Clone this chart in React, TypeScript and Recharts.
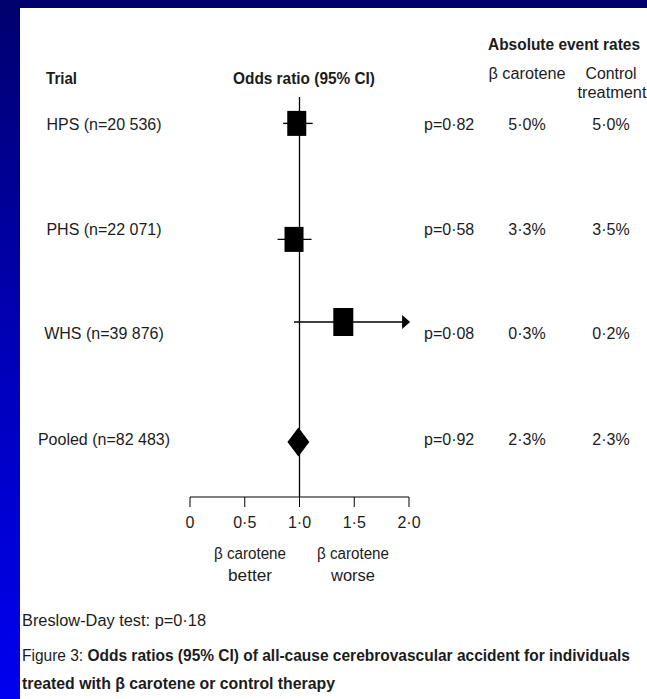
import { ComposedChart, Scatter, XAxis, YAxis, ReferenceLine } from "recharts";

const trials = ["HPS (n=20 536)", "PHS (n=22 071)", "WHS (n=39 876)", "Pooled (n=82 483)"];
const pValues = ["p=0·82", "p=0·58", "p=0·08", "p=0·92"];
const caroteneRates = ["5·0%", "3·3%", "0·3%", "2·3%"];
const controlRates = ["5·0%", "3·5%", "0·2%", "2·3%"];

// odds ratio and 95% CI
const oddsRatio = [0.975, 0.95, 1.4, 1.0];
const ciLow = [0.85, 0.8, 0.95, 0.89];
const ciHigh = [1.12, 1.11, 2.01, 1.09];

// row positions on the vertical axis (0 = x axis, 100 = top of the plot)
const markerRow = [93.4, 64.4, 43.75, 13.75];
const textRow = [93.25, 67, 41, 14.5];

const xTicks = [0, 0.5, 1, 1.5, 2];

const FONT = "'Liberation Sans', Arial, sans-serif";
const INK = "#1c1c1c";

const boxes = oddsRatio.slice(0, 3).map((or, i) => ({ or, y: markerRow[i], i }));

const fmt = (v: number) => (v === 0 ? "0" : v.toFixed(1).replace(".", "·"));

function Box(p: any) {
  const w = p.payload.i === 2 ? 20 : 19;
  const h = p.payload.i === 2 ? 28 : 25;
  return <rect x={p.cx - w / 2} y={p.cy - h / 2} width={w} height={h} fill="#000" />;
}

function Diamond(p: any) {
  const cx = (p.x1 + p.x2) / 2;
  const h = 14.5;
  return <path d={`M${p.x1},${p.y1} L${cx},${p.y1 - h} L${p.x2},${p.y1} L${cx},${p.y1 + h} Z`} fill="#000" />;
}

function Arrow(p: any) {
  return (
    <g>
      <line x1={p.x1} y1={p.y1} x2={p.x2 - 6} y2={p.y2} stroke="#000" strokeWidth={1.4} />
      <path d={`M${p.x2 - 8},${p.y2 - 7} L${p.x2},${p.y2} L${p.x2 - 8},${p.y2 + 7} Z`} fill="#000" />
    </g>
  );
}

// one tick per row: trial name on the left, p value and event rates on the right
function RowTick(p: any) {
  const i = textRow.indexOf(p.payload.value);
  const common = { y: p.y, dy: 5.5, fontFamily: FONT, fontSize: 16, fill: INK };
  return (
    <g>
      <text x={104} textAnchor="middle" {...common}>{trials[i]}</text>
      <text x={424} {...common}>{pValues[i]}</text>
      <text x={527} textAnchor="middle" {...common}>{caroteneRates[i]}</text>
      <text x={611} textAnchor="middle" {...common}>{controlRates[i]}</text>
    </g>
  );
}

function T({ x, y, w, anchor = "start", bold = false, size = 16, children }: any) {
  return (
    <text
      x={x}
      y={y}
      textAnchor={anchor}
      textLength={w}
      lengthAdjust="spacingAndGlyphs"
      fontFamily={FONT}
      fontWeight={bold ? 700 : 400}
      fontSize={size}
      fill={INK}
    >
      {children}
    </text>
  );
}

export default function App() {
  return (
    <div
      style={{
        position: "absolute",
        left: 0,
        top: 0,
        width: 647,
        height: 699,
        background: "linear-gradient(to bottom, #00006e 0%, #0000b8 50%, #0000f0 100%)",
        overflow: "hidden",
      }}
    >
      <div style={{ position: "absolute", left: 20, top: 8, right: 0, bottom: 0, background: "#fff" }} />
      <div style={{ position: "absolute", left: 0, top: 0 }}>
        <ComposedChart width={647} height={699} margin={{ top: 97, right: 238, bottom: 172, left: 20 }}>
          <XAxis
            type="number"
            dataKey="or"
            domain={[0, 2]}
            ticks={xTicks}
            tickFormatter={fmt}
            height={30}
            tickSize={10}
            tickMargin={10}
            stroke="#000"
            tick={{ fill: INK, fontSize: 16, fontFamily: FONT }}
            allowDataOverflow
          />
          <YAxis
            yAxisId="left"
            type="number"
            dataKey="y"
            domain={[0, 100]}
            ticks={textRow}
            width={170}
            axisLine={false}
            tickLine={false}
            tick={(p: any) => <RowTick {...p} />}
          />
          <ReferenceLine yAxisId="left" x={1} stroke="#000" strokeWidth={1.3} />
          {[0, 1].map((i) => (
            <ReferenceLine
              key={i}
              yAxisId="left"
              segment={[{ x: ciLow[i], y: markerRow[i] }, { x: ciHigh[i], y: markerRow[i] }]}
              stroke="#000"
              strokeWidth={1.4}
              ifOverflow="visible"
            />
          ))}
          <ReferenceLine
            yAxisId="left"
            segment={[{ x: ciLow[2], y: markerRow[2] }, { x: ciHigh[2], y: markerRow[2] }]}
            ifOverflow="visible"
            shape={(p: any) => <Arrow {...p} />}
          />
          <ReferenceLine
            yAxisId="left"
            segment={[{ x: ciLow[3], y: markerRow[3] }, { x: ciHigh[3], y: markerRow[3] }]}
            ifOverflow="visible"
            shape={(p: any) => <Diamond {...p} />}
          />
          <Scatter yAxisId="left" data={boxes} dataKey="y" shape={(p: any) => <Box {...p} />} isAnimationActive={false} />
        </ComposedChart>
      </div>
      <svg width={647} height={699} style={{ position: "absolute", left: 0, top: 0, pointerEvents: "none" }}>
        <T x={564} y={50} w={152} anchor="middle" bold>Absolute event rates</T>
        <T x={46} y={84} w={31} bold>Trial</T>
        <T x={233} y={84} w={142} bold>Odds ratio (95% CI)</T>
        <T x={527} y={79} w={77} anchor="middle">β carotene</T>
        <T x={611} y={79} w={51} anchor="middle">Control</T>
        <T x={612} y={98} w={69} anchor="middle">treatment</T>
        <T x={250} y={559} w={72} anchor="middle">β carotene</T>
        <T x={250} y={581} w={44} anchor="middle">better</T>
        <T x={353} y={559} w={72} anchor="middle">β carotene</T>
        <T x={353} y={581} w={44} anchor="middle">worse</T>
        <T x={22} y={626} w={184}>Breslow-Day test: p=0·18</T>
        <T x={22} y={661} w={608}>
          Figure 3: <tspan fontWeight={700}>Odds ratios (95% CI) of all-cause cerebrovascular accident for individuals</tspan>
        </T>
        <T x={22} y={689} w={313} bold>treated with β carotene or control therapy</T>
      </svg>
    </div>
  );
}
